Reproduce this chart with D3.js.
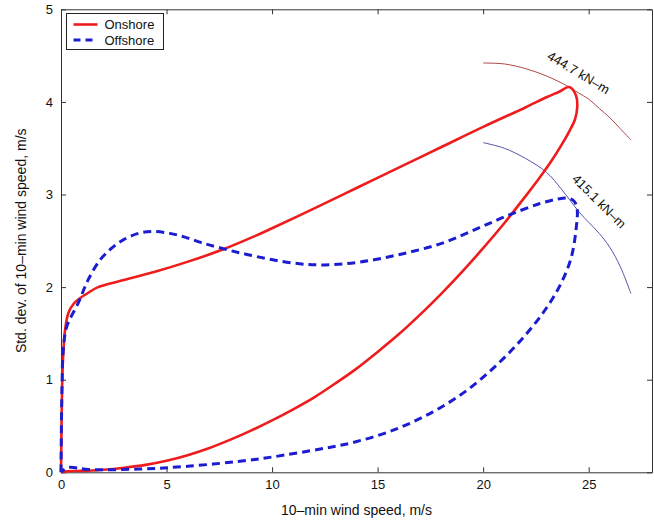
<!DOCTYPE html>
<html>
<head>
<meta charset="utf-8">
<script src="https://cdn.jsdelivr.net/npm/d3@7"></script>
<style>
  body { margin: 0; background: #fff; }
  text { font-family: "Liberation Sans", Arial, sans-serif; fill: #111; }
  .axis path, .axis line { stroke: #333; }
</style>
</head>
<body>
<div id="chart"></div>
<script>
// Onshore loop: up the left edge, along the upper branch, back along the lower branch
const onshoreSpeed = [0, 0.02, 0.05, 0.1, 0.2, 0.35, 0.6, 0.9, 1.3, 1.76, 2.87, 4.45, 6.02, 7.6, 9.18, 10, 12, 14, 16, 18, 20, 22, 23, 23.6, 24.08, 24.4, 24.46, 24.35, 24.1, 23.7, 23.2, 22.7, 21.9, 21, 20, 19, 18, 17, 16, 15, 14, 13, 12, 11, 10, 9, 8, 7, 6, 5, 4, 3, 2, 1, 0.3, 0]
const onshoreStd = [0, 0.4, 0.9, 1.25, 1.55, 1.72, 1.82, 1.88, 1.94, 2.0, 2.07, 2.165, 2.275, 2.4, 2.55, 2.635, 2.85, 3.07, 3.29, 3.51, 3.73, 3.94, 4.05, 4.11, 4.16, 4.07, 3.95, 3.81, 3.69, 3.53, 3.35, 3.19, 2.95, 2.69, 2.42, 2.165, 1.925, 1.7, 1.49, 1.3, 1.12, 0.96, 0.81, 0.68, 0.56, 0.45, 0.35, 0.26, 0.185, 0.125, 0.08, 0.05, 0.028, 0.015, 0.012, 0]

// Offshore loop
const offshoreSpeed = [0, 0.02, 0.05, 0.1, 0.27, 0.82, 1.29, 1.84, 2.4, 2.95, 3.66, 4.37, 5.16, 5.87, 6.65, 7.6, 8.86, 10.98, 12.5, 14.14, 16, 18, 19.8, 21.24, 22.66, 23.5, 24.0, 24.3, 24.45, 24.4, 24.15, 23.6, 22.8, 21.8, 20.6, 19.2, 17.6, 15.8, 13.8, 12.5, 10, 8.9, 6, 3.7, 1.3, 0.33, 0]
const offshoreStd = [0, 0.5, 0.95, 1.3, 1.57, 1.83, 2.08, 2.29, 2.42, 2.51, 2.58, 2.6, 2.58, 2.54, 2.48, 2.42, 2.35, 2.26, 2.24, 2.27, 2.35, 2.47, 2.64, 2.78, 2.9, 2.95, 2.96, 2.93, 2.85, 2.62, 2.3, 2.0, 1.71, 1.43, 1.15, 0.88, 0.65, 0.46, 0.32, 0.26, 0.165, 0.13, 0.065, 0.035, 0.03, 0.05, 0]

// Constant bending-moment contours
const onshoreMomentSpeed = [20, 21, 22, 23, 24, 24.5, 25, 25.5, 26, 26.5, 27]
const onshoreMomentStd = [4.42, 4.41, 4.36, 4.28, 4.17, 4.1, 4.03, 3.93, 3.83, 3.71, 3.59]
const offshoreMomentSpeed = [20, 21, 22, 23, 23.7, 24.55, 25, 25.5, 26, 26.5, 27]
const offshoreMomentStd = [3.56, 3.5, 3.39, 3.24, 3.06, 2.81, 2.7, 2.58, 2.43, 2.22, 1.93]

const xTicks = [0, 5, 10, 15, 20, 25]
const yTicks = [0, 1, 2, 3, 4, 5]
const seriesNames = ['Onshore', 'Offshore']
const momentLabels = ['444.7 kN\u2013m', '415.1 kN\u2013m']

const zip = (xs, ys) => xs.map((x, i) => [x, ys[i]])

const drawChart = () => {
  const width = 654
  const height = 523
  const margin = { top: 9.3, right: 2, bottom: 50.7, left: 61 }
  const innerWidth = width - margin.left - margin.right
  const innerHeight = height - margin.top - margin.bottom

  const svg = d3.select('#chart')
    .append('svg')
    .attr('width', width)
    .attr('height', height)

  const g = svg.append('g')
    .attr('transform', `translate(${margin.left}, ${margin.top})`)

  const x = d3.scaleLinear().domain([0, 28]).range([0, innerWidth])
  const y = d3.scaleLinear().domain([0, 5]).range([innerHeight, 0])

  const line = d3.line()
    .x(d => x(d[0]))
    .y(d => y(d[1]))
    .curve(d3.curveCatmullRom.alpha(0.5))

  // Box with inward ticks on all four sides
  g.append('g')
    .attr('class', 'axis')
    .attr('transform', `translate(0, ${innerHeight})`)
    .call(d3.axisBottom(x).tickValues(xTicks).tickSizeInner(-5).tickSizeOuter(0).tickPadding(7))
    .call(a => a.selectAll('text').attr('font-size', 13))

  g.append('g')
    .attr('class', 'axis')
    .call(d3.axisTop(x).tickValues(xTicks).tickSizeInner(-5).tickSizeOuter(0).tickFormat(''))

  g.append('g')
    .attr('class', 'axis')
    .call(d3.axisLeft(y).tickValues(yTicks).tickFormat(d3.format('d')).tickSizeInner(-5).tickSizeOuter(0).tickPadding(8))
    .call(a => a.selectAll('text').attr('font-size', 13))

  g.append('g')
    .attr('class', 'axis')
    .attr('transform', `translate(${innerWidth}, 0)`)
    .call(d3.axisRight(y).tickValues(yTicks).tickSizeInner(-5).tickSizeOuter(0).tickFormat(''))

  g.selectAll('.axis').attr('font-family', null)

  // Moment contours (thin)
  g.append('path')
    .datum(zip(onshoreMomentSpeed, onshoreMomentStd))
    .attr('fill', 'none')
    .attr('stroke', '#b04848')
    .attr('stroke-width', 1)
    .attr('d', line)

  g.append('path')
    .datum(zip(offshoreMomentSpeed, offshoreMomentStd))
    .attr('fill', 'none')
    .attr('stroke', '#5454a8')
    .attr('stroke-width', 1)
    .attr('d', line)

  // Main curves
  g.append('path')
    .datum(zip(onshoreSpeed, onshoreStd))
    .attr('fill', 'none')
    .attr('stroke', '#ee1c1c')
    .attr('stroke-width', 2.6)
    .attr('d', line)

  g.append('path')
    .datum(zip(offshoreSpeed, offshoreStd))
    .attr('fill', 'none')
    .attr('stroke', '#1c1cd0')
    .attr('stroke-width', 3)
    .attr('stroke-dasharray', '8,5')
    .attr('d', line)

  // Contour labels
  g.append('text')
    .attr('transform', `translate(${x(22.99)}, ${y(4.47)}) rotate(31)`)
    .attr('font-size', 13)
    .text(momentLabels[0])

  g.append('text')
    .attr('transform', `translate(${x(24.17)}, ${y(3.16)}) rotate(45)`)
    .attr('font-size', 13)
    .text(momentLabels[1])

  // Axis titles
  svg.append('text')
    .attr('x', margin.left + innerWidth / 2)
    .attr('y', 515)
    .attr('text-anchor', 'middle')
    .attr('font-size', 14)
    .text('10\u2013min wind speed, m/s')

  svg.append('text')
    .attr('transform', `translate(26, ${margin.top + innerHeight / 2}) rotate(-90)`)
    .attr('text-anchor', 'middle')
    .attr('font-size', 14)
    .text('Std. dev. of 10\u2013min wind speed, m/s')

  // Legend
  const legend = svg.append('g').attr('transform', 'translate(66.5, 13.5)')
  legend.append('rect')
    .attr('width', 97)
    .attr('height', 36)
    .attr('fill', '#fff')
    .attr('stroke', '#222')
    .attr('stroke-width', 1)

  const legendStyles = [
    { stroke: '#ee1c1c', dash: null, width: 2.6 },
    { stroke: '#1c1cd0', dash: '7,5', width: 3 }
  ]
  seriesNames.forEach((name, i) => {
    const row = legend.append('g').attr('transform', `translate(0, ${11 + i * 15.5})`)
    row.append('line')
      .attr('x1', 7).attr('x2', 31)
      .attr('stroke', legendStyles[i].stroke)
      .attr('stroke-width', legendStyles[i].width)
      .attr('stroke-dasharray', legendStyles[i].dash)
    row.append('text')
      .attr('x', 38)
      .attr('y', 4.5)
      .attr('font-size', 13)
      .text(name)
  })
}

drawChart()
</script>
</body>
</html>
